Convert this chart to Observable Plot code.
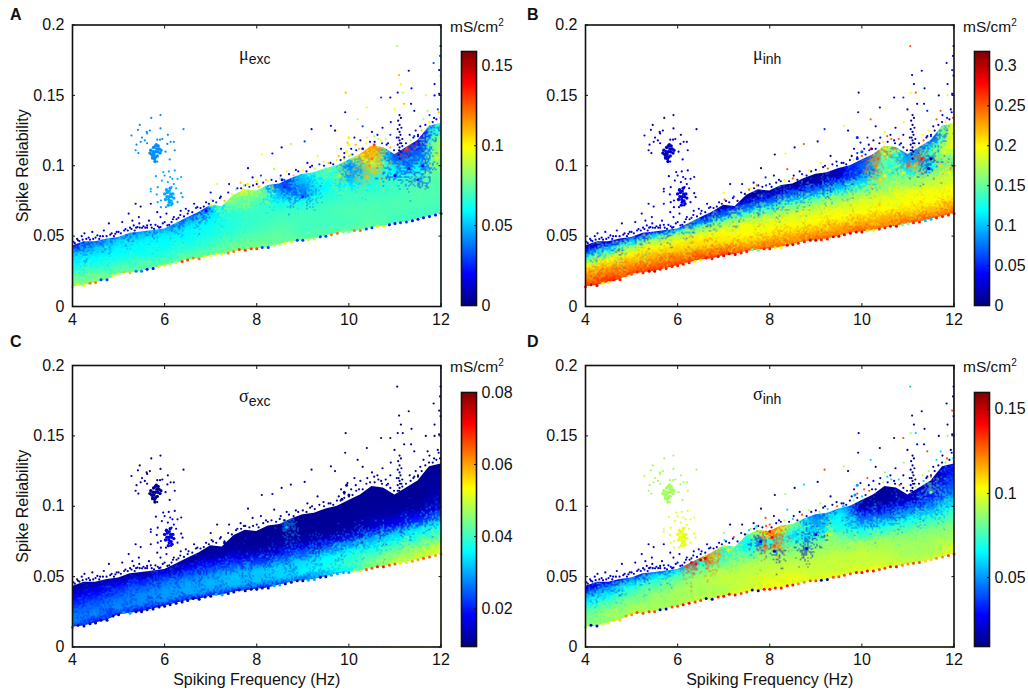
<!DOCTYPE html>
<html>
<head>
<meta charset="utf-8">
<script src="https://cdn.jsdelivr.net/npm/d3@7"></script>
<script src="https://cdn.jsdelivr.net/npm/@observablehq/plot@0.6"></script>
<style>
  body { margin: 0; background: white; overflow: hidden; }
  #fig { position: relative; width: 1028px; height: 694px; font-family: "Liberation Sans", Arial, sans-serif; color: #111; }
  #fig svg { position: absolute; background: transparent; }
  .letter { position: absolute; font-weight: bold; font-size: 16px; }
  .unit { position: absolute; font-size: 15.5px; }
  .unit sup { font-size: 10px; line-height: 0; }
  .name { position: absolute; font-size: 15px; }
  .name i { font-family: "Liberation Serif", serif; font-style: normal; font-size: 18px; }
  .name sub { font-size: 14px; line-height: 0; }
</style>
</head>
<body>
<div id="fig"></div>
<script>
// values. columns every 0.5 Hz, rows go bottom to top of the band
const freqCols = [4, 4.5, 5, 5.5, 6, 6.5, 7, 7.5, 8, 8.5, 9, 9.5, 10, 10.5, 11, 11.5, 12];
const relRows = [
  [.014, .018, .023, .026, .029, .033, .036, .039, .041, .044, .047, .050, .053, .056, .059, .062, .066],
  [.019, .023, .028, .031, .034, .038, .041, .044, .047, .050, .053, .056, .059, .062, .065, .068, .072],
  [.024, .028, .033, .037, .040, .044, .047, .051, .054, .057, .060, .063, .066, .069, .072, .075, .079],
  [.029, .033, .038, .042, .046, .050, .054, .058, .061, .064, .067, .070, .074, .077, .080, .083, .086],
  [.034, .038, .043, .047, .051, .056, .060, .065, .068, .072, .075, .078, .082, .085, .088, .091, .094],
  [.038, .042, .047, .051, .055, .060, .066, .071, .075, .079, .082, .085, .090, .093, .096, .099, .103],
  [.042, .046, .050, .054, .058, .065, .071, .077, .082, .086, .090, .094, .100, .103, .105, .108, .115],
  [.050, .054, .058, .062, .066, .073, .079, .085, .090, .094, .098, .104, .112, .117, .118, .122, .135]
];

const muExc = [
  [.08, .08, .075, .075, .075, .08, .075, .08, .08, .075, .075, .075, .075, .075, .07, .07, .07],
  [.078, .075, .072, .072, .07, .07, .072, .075, .075, .075, .07, .07, .07, .072, .07, .07, .07],
  [.068, .066, .064, .062, .062, .064, .066, .068, .07, .072, .07, .07, .072, .072, .072, .072, .072],
  [.062, .06, .06, .06, .06, .06, .062, .065, .068, .07, .07, .07, .07, .07, .07, .072, .072],
  [.056, .056, .058, .058, .058, .058, .06, .066, .068, .064, .062, .066, .068, .065, .068, .07, .075],
  [.05, .052, .054, .052, .048, .05, .056, .072, .072, .05, .04, .06, .05, .06, .06, .06, .08],
  [.03, .035, .04, .04, .035, .03, .05, .08, .08, .035, .05, .07, .04, .09, .035, .035, .085],
  [.01, .012, .015, .015, .015, .02, .06, .085, .075, .025, .06, .08, .095, .11, .02, .02, .06]
];
const muInh = [
  [.26, .265, .26, .26, .26, .26, .26, .25, .25, .24, .25, .24, .25, .24, .25, .25, .25],
  [.245, .245, .24, .24, .24, .24, .235, .225, .225, .225, .225, .225, .225, .225, .22, .22, .22],
  [.225, .225, .22, .22, .215, .21, .205, .2, .2, .2, .2, .2, .2, .2, .2, .2, .2],
  [.195, .2, .2, .2, .2, .2, .195, .195, .19, .19, .19, .19, .19, .19, .195, .195, .195],
  [.14, .15, .16, .17, .17, .16, .155, .15, .15, .155, .155, .16, .16, .165, .165, .17, .17],
  [.08, .09, .1, .1, .09, .08, .07, .07, .07, .08, .08, .095, .1, .115, .115, .125, .14],
  [.03, .03, .03, .03, .025, .02, .015, .015, .012, .012, .012, .02, .07, .15, .09, .14, .2],
  [.012, .015, .02, .02, .012, .01, .01, .01, .01, .01, .01, .02, .04, .2, .06, .06, .19]
];
const sigmaExc = [
  [.022, .02, .02, .019, .019, .019, .02, .02, .02, .022, .024, .027, .035, .045, .05, .05, .052],
  [.028, .028, .028, .028, .029, .03, .03, .031, .032, .033, .035, .037, .04, .043, .046, .048, .05],
  [.026, .026, .027, .028, .029, .03, .031, .032, .032, .033, .034, .036, .037, .038, .04, .041, .043],
  [.022, .023, .024, .025, .026, .026, .025, .024, .022, .023, .024, .026, .028, .03, .033, .035, .037],
  [.019, .019, .02, .02, .02, .019, .018, .016, .013, .013, .013, .013, .013, .015, .017, .02, .024],
  [.016, .016, .015, .014, .014, .013, .012, .012, .011, .011, .011, .011, .011, .012, .012, .012, .014],
  [.012, .012, .012, .011, .011, .011, .011, .011, .011, .011, .011, .011, .011, .011, .011, .011, .012],
  [.011, .011, .011, .011, .011, .011, .011, .011, .011, .011, .011, .011, .011, .011, .011, .011, .011]
];
const sigmaInh = [
  [.09, .085, .095, .09, .09, .095, .095, .1, .1, .1, .1, .1, .1, .1, .095, .095, .1],
  [.085, .09, .09, .09, .09, .09, .09, .095, .1, .1, .095, .095, .095, .095, .09, .09, .095],
  [.08, .082, .085, .088, .09, .092, .095, .095, .095, .095, .095, .095, .095, .092, .09, .09, .09],
  [.07, .074, .078, .08, .085, .09, .092, .092, .092, .09, .09, .09, .09, .088, .085, .085, .085],
  [.06, .063, .07, .072, .075, .08, .08, .08, .085, .08, .08, .082, .07, .07, .072, .072, .075],
  [.05, .05, .055, .06, .06, .07, .07, .065, .07, .06, .06, .07, .045, .045, .05, .05, .06],
  [.025, .03, .035, .04, .045, .1, .07, .07, .12, .08, .05, .065, .015, .015, .02, .03, .04],
  [.012, .015, .02, .02, .04, .13, .1, .085, .13, .09, .04, .03, .012, .012, .012, .015, .025]
];

// outline of the cloud, every 0.25 Hz
const edgeFreqs = [4, 4.25, 4.5, 4.75, 5, 5.25, 5.5, 5.75, 6, 6.25, 6.5, 6.75, 7, 7.25, 7.5, 7.75, 8, 8.25, 8.5, 8.75, 9, 9.25, 9.5, 9.75, 10, 10.25, 10.5, 10.75, 11, 11.25, 11.5, 11.75, 12];
const upperEdge = [.043, .046, .046, .048, .049, .052, .053, .054, .055, .059, .063, .067, .072, .071, .079, .083, .082, .086, .087, .091, .094, .095, .098, .1, .104, .108, .114, .113, .108, .113, .118, .128, .13];
const lowerEdge = [.014, .015, .017, .019, .023, .024, .025, .027, .029, .031, .033, .034, .036, .037, .039, .04, .041, .042, .044, .046, .047, .048, .05, .052, .053, .054, .056, .057, .059, .06, .062, .064, .066];
// second row of edge speckle, between the positions above
const midEdgeFreqs = [4.12, 4.38, 4.62, 4.88, 5.12, 5.38, 5.62, 5.88, 6.12, 6.38, 6.62, 6.88, 7.12, 7.38, 7.62, 7.88, 8.12, 8.38, 8.62, 8.88, 9.12, 9.38, 9.62, 9.88, 10.12, 10.38, 10.62, 10.88, 11.12, 11.38, 11.62, 11.88];
const midEdge = [.0155, .0165, .019, .022, .0245, .025, .0265, .0285, .03, .032, .0345, .0355, .0375, .038, .0405, .041, .042, .0435, .045, .047, .0475, .0495, .051, .053, .054, .055, .057, .058, .0595, .061, .063, .065];

// coloured speckle along the lower edge, one value per edge position
const muExcEdge = [.09, .1, .12, .03, .1, .11, .04, .02, .1, .09, .13, .12, .1, .1, .12, .13, .13, .03, .09, .1, .03, .09, .03, .12, .08, .12, .03, .1, .02, .03, .02, .02, .02];
const muInhEdge = [.27, .29, .2, .27, .25, .27, .29, .27, .27, .27, .2, .27, .29, .29, .27, .15, .27, .2, .29, .27, .29, .27, .29, .29, .29, .2, .27, .29, .15, .27, .1, .27, .27];
const sigmaExcEdge = [.03, .012, .012, .012, .012, .03, .012, .012, .012, .012, .012, .012, .012, .03, .012, .012, .012, .012, .03, .012, .012, .03, .012, .03, .03, .055, .065, .07, .065, .055, .06, .065, .06];
const sigmaInhEdge = [.09, .02, .1, .11, .12, .13, .13, .02, .13, .14, .13, .02, .14, .14, .13, .02, .14, .14, .14, .12, .13, .02, .13, .13, .14, .14, .13, .14, .12, .13, .11, .12, .13];

// isolated neurons: [frequency, reliability]
const upperCluster = [[5.28, .1215], [5.39, .115], [5.37, .111], [5.43, .109], [5.48, .117], [5.51, .12], [5.61, .124], [5.42, .1255], [5.46, .129], [5.71, .134], [5.91, .136], [5.91, .1265], [5.68, .125], [6.07, .122], [6.41, .126], [6.06, .1155], [6.13, .117], [6.2, .117], [6.22, .111], [6.11, .1045], [6.02, .11], [5.9, .1185], [5.95, .119], [5.84, .1185], [5.62, .116], [5.57, .118], [5.62, .123], [5.73, .105], [5.84, .103]];
const upperCore = [[5.8, .11], [5.75, .11], [5.85, .11], [5.8, .106], [5.8, .114], [5.72, .108], [5.88, .112], [5.76, .113], [5.84, .107], [5.7, .111], [5.9, .109], [5.78, .105], [5.82, .115], [5.74, .106], [5.86, .114], [5.77, .108], [5.83, .112], [5.79, .103], [5.68, .109], [5.92, .111]];
const lowerCluster = [[5.97, .0955], [6.09, .096], [6.22, .0967], [5.81, .0926], [5.94, .0895], [6.36, .092], [6.28, .0907], [6.17, .0907], [6.07, .0884], [6.15, .0848], [5.7, .0836], [5.85, .0848], [5.7, .0817], [6.03, .0824], [6.36, .0805], [5.83, .0796], [6.39, .0777], [5.92, .0753], [6.28, .0741], [6.03, .0706], [5.92, .0706], [5.85, .0741], [6.14, .0718], [6.2, .087], [6.12, .092], [6.0, .093], [6.25, .084]];
const lowerCore = [[6.1, .078], [6.05, .078], [6.15, .078], [6.1, .074], [6.1, .082], [6.02, .076], [6.18, .08], [6.06, .081], [6.14, .075], [6.0, .08], [6.2, .077], [6.08, .072], [6.12, .084], [6.04, .083], [6.16, .073], [6.09, .076], [6.13, .08]];
const lowFringe = [[4.26, .052], [4.43, .053], [4.54, .0505], [4.68, .054], [4.79, .059], [4.93, .0516], [5.08, .06], [5.22, .066], [5.37, .073], [5.48, .071], [5.7, .073], [5.3, .061], [5.44, .0635], [5.66, .061], [5.84, .067], [5.91, .0635], [6.04, .066], [6.2, .0635], [6.35, .068], [6.46, .0694], [6.64, .073], [6.71, .0706], [5.33, .0576], [5.41, .0564], [5.51, .0559], [5.62, .0576], [5.77, .0552], [5.91, .0564], [6.06, .0576], [4.1, .048], [4.2, .05], [4.35, .049], [4.6, .05], [4.85, .052], [5.0, .053], [5.15, .055], [5.25, .056], [5.35, .054], [5.45, .059], [5.58, .056], [5.7, .058], [5.85, .057], [6.0, .06], [6.15, .06], [6.3, .063], [6.5, .066], [6.85, .071], [7.05, .075], [7.2, .077], [4.02, .046], [4.15, .0465], [4.45, .048],
  [4.05, .045], [4.12, .047], [4.22, .0475], [4.3, .048], [4.38, .0475], [4.5, .049], [4.58, .048], [4.66, .05], [4.74, .05], [4.82, .051], [4.9, .05], [4.96, .053], [5.05, .052], [5.12, .054], [5.2, .054], [5.28, .055], [5.38, .056], [5.46, .056], [5.54, .057], [5.62, .056], [5.72, .056], [5.8, .058], [5.88, .056], [5.96, .059], [6.1, .058], [6.18, .062], [6.26, .062], [6.34, .065], [6.42, .064], [6.52, .068], [6.6, .067], [6.68, .07], [6.78, .07], [6.9, .074], [6.96, .073]];
const highFringe = [[7.81, .0983], [8.11, .108], [8.34, .1087], [8.54, .113], [8.74, .1154], [9.04, .1173], [9.19, .126], [9.93, .152], [9.92, .138], [10.39, .1414], [9.61, .1284], [9.7, .125], [10.19, .133], [10.7, .1485], [10.9, .1485], [11.09, .1644], [11.3, .1675], [11.13, .158], [11.06, .152], [11.36, .155], [11.17, .152], [11.84, .173], [11.96, .168], [11.99, .164], [11.86, .158], [11.67, .15], [11.86, .15], [11.96, .151], [11.71, .139], [11.93, .14], [11.42, .139], [11.2, .144], [11.35, .144], [10.99, .14], [10.91, .131], [10.73, .127], [10.55, .121], [10.3, .128], [10.12, .12], [9.97, .1165], [9.83, .112], [9.32, .107], [9.1, .102], [8.52, .093], [8.38, .0976], [8.09, .093], [7.91, .0917], [7.65, .088], [7.4, .087], [7.14, .087], [7.0, .081], [11.99, .185], [11.05, .185], [11.98, .178], [10.05, .112], [10.15, .115], [10.25, .118], [10.4, .12], [10.5, .124], [10.62, .122], [10.8, .119], [10.9, .122], [9.9, .109], [9.78, .107], [9.6, .102], [9.45, .103], [11.45, .125], [11.55, .128], [11.62, .133], [11.75, .136], [11.85, .134], [11.95, .138], [11.5, .122], [8.65, .096], [8.85, .097], [9.2, .1], [7.55, .083], [7.75, .086], [8.0, .087], [8.2, .09], [10.85, .116], [10.7, .118], [11.32, .122], [11.4, .12],
  [7.02, .076], [7.12, .074], [7.22, .078], [7.3, .075], [7.38, .081], [7.46, .08], [7.58, .084], [7.66, .084], [7.72, .086], [7.84, .085], [7.92, .086], [8.04, .085], [8.14, .088], [8.24, .089], [8.32, .09], [8.42, .089], [8.5, .091], [8.6, .09], [8.7, .094], [8.8, .093], [8.9, .096], [9, .097], [9.08, .096], [9.16, .099], [9.26, .098], [9.36, .101], [9.46, .1], [9.56, .102], [9.66, .101], [9.74, .104], [9.82, .104], [9.9, .106], [10, .107], [10.08, .108], [10.16, .111], [10.22, .112], [10.3, .112], [10.38, .116], [10.46, .117], [10.56, .117], [10.64, .119], [10.72, .116], [10.82, .115], [10.9, .113], [10.98, .111], [11.06, .111], [11.16, .114], [11.24, .116], [11.34, .118], [11.42, .121], [11.5, .121], [11.58, .125], [11.66, .129], [11.74, .131], [11.82, .131], [11.9, .133], [11.98, .134]];
const tower = [[11.1, .105], [11.08, .108], [11.12, .11], [11.1, .113], [11.06, .115], [11.14, .116], [11.1, .118], [11.08, .12], [11.12, .122], [11.1, .124], [11.06, .126], [11.14, .127], [11.1, .129], [11.07, .132], [11.13, .134], [11.1, .136], [11.04, .12], [11.16, .119], [11.09, .111], [11.11, .116]];

// colour of each group of isolated neurons: upper, lower, low fringe, tower
const muExcGroups = [.042, .046, .012, .004];
const muInhGroups = [.02, .03, .03, .008];
const sigmaExcGroups = [.011, .016, .012, .011];
const sigmaInhGroups = [.09, .1, .02, .012];
// the high fringe is mixed, these repeat along its points
const muExcFringe = [.012, .1, .02, .012, .085, .03, .012, .11];
const muInhFringe = [.02, .012, .2, .012, .25, .02, .05, .012];
const sigmaExcFringe = [.011, .011, .012, .011];
const sigmaInhFringe = [.02, .012, .09, .012, .06, .012, .13, .02];

// blotches in the band: [frequency, reliability, value]
const muExcBlotches = [[9.95, .11, .1], [10, .115, .1], [10.05, .108, .1], [9.9, .105, .095], [10, .12, .1], [10.45, .1, .115], [10.5, .105, .12], [10.55, .095, .11], [10.4, .092, .11], [10.6, .108, .115], [9.8, .093, .09], [9.7, .125, .1], [7.7, .083, .1], [7.8, .087, .1], [8, .089, .1], [8.05, .085, .1], [7.4, .075, .085], [11, .093, .02], [11.3, .098, .02], [11.5, .09, .025], [11.6, .1, .02], [10.3, .112, .13], [10.55, .115, .13], [11.25, .112, .13], [11.9, .105, .1], [9, .078, .025], [8.55, .09, .02], [8.6, .085, .025], [6.9, .068, .02], [7, .072, .09]];
const muInhBlotches = [[10.4, .09, .21], [10.3, .1, .24], [10.35, .105, .25], [10.2, .112, .27], [10.5, .093, .2], [10.6, .1, .13], [9.9, .105, .05], [10, .11, .06], [11.45, .098, .03], [11.5, .105, .02], [11.7, .1, .21], [11.8, .11, .19], [11.9, .095, .2], [12, .1, .25], [11, .1, .25], [11.15, .1, .22], [11.3, .105, .27], [10.9, .095, .2], [9.95, .095, .05], [9.9, .12, .05]];
const sigmaExcBlotches = [[8.6, .09, .03], [8.65, .085, .03], [9.9, .11, .012], [9.95, .115, .012], [10, .108, .012], [9.85, .105, .012], [7.2, .068, .012], [7.3, .074, .012]];
const sigmaInhBlotches = [[6.3, .06, .14], [6.5, .062, .15], [6.6, .063, .145], [6.4, .059, .14], [6.7, .06, .125], [6.2, .057, .13], [8, .082, .14], [8.05, .078, .14], [8.1, .072, .13], [7.9, .072, .13], [8.2, .072, .12], [7, .072, .1], [7.1, .069, .105], [7.5, .08, .08], [7.7, .085, .08], [7.8, .075, .02], [8.1, .068, .02], [8.8, .07, .02], [9, .08, .02], [9.3, .08, .1], [9.6, .1, .06], [9.9, .115, .05], [9.85, .108, .05], [11.5, .11, .08], [6.9, .066, .12]];

const yTicks = [0, 0.05, 0.1, 0.15, 0.2];
const xTicks = [4, 6, 8, 10, 12];
const muExcTicks = [0, 0.05, 0.1, 0.15];
const muInhTicks = [0, 0.05, 0.1, 0.15, 0.2, 0.25, 0.3];
const sigmaExcTicks = [0.02, 0.04, 0.06, 0.08];
const sigmaInhTicks = [0.05, 0.1, 0.15];
const jetStops = ["#000080", "#0000ff", "#0080ff", "#00ffff", "#80ff80", "#ffff00", "#ff8000", "#ff0000", "#800000"];

const jet = d3.piecewise(d3.interpolateRgb, jetStops);
const fig = document.getElementById("fig");
const plotStyle = { fontFamily: "Liberation Sans, Arial, sans-serif", fontSize: "16px", color: "#111", background: "transparent" };

function place(svg, left, top) {
  svg.style.left = left + "px";
  svg.style.top = top + "px";
  fig.append(svg);
}

function html(cls, left, top, content) {
  const el = document.createElement("div");
  el.className = cls;
  el.style.left = left + "px";
  el.style.top = top + "px";
  el.innerHTML = content;
  fig.append(el);
}

function panel(p) {
  const blotches = p.blotches.map(([f, r, v]) => ({ f, r, v }));
  const base = [];
  relRows.forEach((row, i) => row.forEach((r, j) => base.push({ f: freqCols[j], r, v: p.values[i][j] })));
  const edge = edgeFreqs.map((f, i) => ({ f, r: lowerEdge[i], v: p.edge[i] }))
    .concat(midEdgeFreqs.map((f, i) => ({ f, r: midEdge[i], v: p.edge[i + 1] })));
  const group = (pts, k) => pts.map(([f, r]) => ({ f, r, v: p.groups[k] }));
  const fringe = highFringe.map(([f, r], i) => ({ f, r, v: p.fringe[i % p.fringe.length] }));
  const sparse = [...group(upperCluster, 0), ...group(lowerCluster, 1), ...group(lowFringe, 2), ...fringe, ...group(tower, 3)];
  const cores = [...group(upperCore, 0), ...group(lowerCore, 1)];
  const dotOpts = { x: "f", y: "r", fill: "v", stroke: null };

  const chart = Plot.plot({
    width: 470, height: 352,
    marginLeft: 72, marginRight: 29.5, marginTop: p.top, marginBottom: 352 - p.top - 281.5,
    style: plotStyle,
    x: { domain: [4, 12] },
    y: { domain: [0, 0.2] },
    color: { type: "linear", domain: p.domain, interpolate: jet, clamp: true },
    marks: [
      // smooth band, then a grainy copy over it for the speckled look
      Plot.raster(base, { x: "f", y: "r", fill: "v", interpolate: "barycentric", pixelSize: 1 }),
      Plot.raster([...blotches, ...base], { x: "f", y: "r", fill: "v", interpolate: "random-walk", pixelSize: 1.5, fillOpacity: 0.5 }),
      // white outside the cloud outline
      Plot.areaY(edgeFreqs, { x: edgeFreqs, y1: upperEdge, y2: 0.2, fill: "white" }),
      Plot.areaY(edgeFreqs, { x: edgeFreqs, y1: 0, y2: lowerEdge, fill: "white" }),
      Plot.dot(edge, { ...dotOpts, r: 1.5 }),
      Plot.dot(blotches, { ...dotOpts, r: 1.5 }),
      Plot.dot(sparse, { ...dotOpts, r: 1.1 }),
      Plot.dot(cores, { ...dotOpts, r: 1.7 }),
      Plot.frame({ stroke: "#111", strokeWidth: 1.6 }),
      Plot.axisY(yTicks, { anchor: "left", tickSize: -3, tickPadding: 11, tickFormat: d => String(d), label: p.yLabel, labelAnchor: "center", labelArrow: "none", labelOffset: 56 }),
      Plot.axisY(yTicks, { anchor: "right", tickSize: -3, fill: "none", label: null }),
      Plot.axisX(xTicks, { anchor: "bottom", tickSize: -3, tickPadding: 10, tickFormat: d => String(d), label: p.xLabel, labelAnchor: "center", labelArrow: "none", labelOffset: 38 }),
      Plot.axisX(xTicks, { anchor: "top", tickSize: -3, fill: "none", label: null })
    ]
  });
  d3.select(chart).selectAll("image").style("filter", "blur(0.6px)");
  place(chart, p.left, p.topPx);

  const bar = Plot.plot({
    width: 59, height: 278,
    marginLeft: 5, marginRight: 39, marginTop: 12, marginBottom: 12,
    style: plotStyle,
    x: { domain: [0, 1], axis: null },
    y: { domain: p.domain },
    color: { type: "linear", domain: p.domain, interpolate: jet },
    marks: [
      Plot.raster({ fill: (x, y) => y, x1: 0, x2: 1, y1: p.domain[0], y2: p.domain[1], pixelSize: 1 }),
      Plot.frame({ stroke: "#111", strokeWidth: 1.6 }),
      Plot.axisY(p.ticks, { anchor: "right", tickSize: -3, tickPadding: 8, tickFormat: d => String(d), label: null })
    ]
  });
  place(bar, p.barLeft - 5, p.barTop - 12);

  html("letter", p.letterX, p.letterY, p.letter);
  html("unit", p.barLeft - 11, p.unitY, "mS/cm<sup>2</sup>");
  html("name", p.nameX, p.nameY, p.name);
}

panel({ letter: "A", letterX: 10, letterY: 6, left: 0, topPx: 0, top: 24.5, values: muExc, edge: muExcEdge, groups: muExcGroups, fringe: muExcFringe, blotches: muExcBlotches, domain: [0, 0.159], ticks: muExcTicks, yLabel: "Spike Reliability", xLabel: null, barLeft: 461, barTop: 51, unitY: 18, nameX: 239, nameY: 44, name: "<i>μ</i><sub>exc</sub>" });
panel({ letter: "B", letterX: 527, letterY: 6, left: 513, topPx: 0, top: 24.5, values: muInh, edge: muInhEdge, groups: muInhGroups, fringe: muInhFringe, blotches: muInhBlotches, domain: [0, 0.318], ticks: muInhTicks, yLabel: null, xLabel: null, barLeft: 974, barTop: 51, unitY: 18, nameX: 753, nameY: 44, name: "<i>μ</i><sub>inh</sub>" });
panel({ letter: "C", letterX: 10, letterY: 333, left: 0, topPx: 340, top: 25, values: sigmaExc, edge: sigmaExcEdge, groups: sigmaExcGroups, fringe: sigmaExcFringe, blotches: sigmaExcBlotches, domain: [0.0095, 0.08], ticks: sigmaExcTicks, yLabel: "Spike Reliability", xLabel: "Spiking Frequency (Hz)", barLeft: 461, barTop: 392, unitY: 358, nameX: 239, nameY: 386, name: "<i>σ</i><sub>exc</sub>" });
panel({ letter: "D", letterX: 527, letterY: 333, left: 513, topPx: 340, top: 25, values: sigmaInh, edge: sigmaInhEdge, groups: sigmaInhGroups, fringe: sigmaInhFringe, blotches: sigmaInhBlotches, domain: [0.009, 0.16], ticks: sigmaInhTicks, yLabel: null, xLabel: "Spiking Frequency (Hz)", barLeft: 974, barTop: 392, unitY: 358, nameX: 753, nameY: 384, name: "<i>σ</i><sub>inh</sub>" });
</script>
</body>
</html>
